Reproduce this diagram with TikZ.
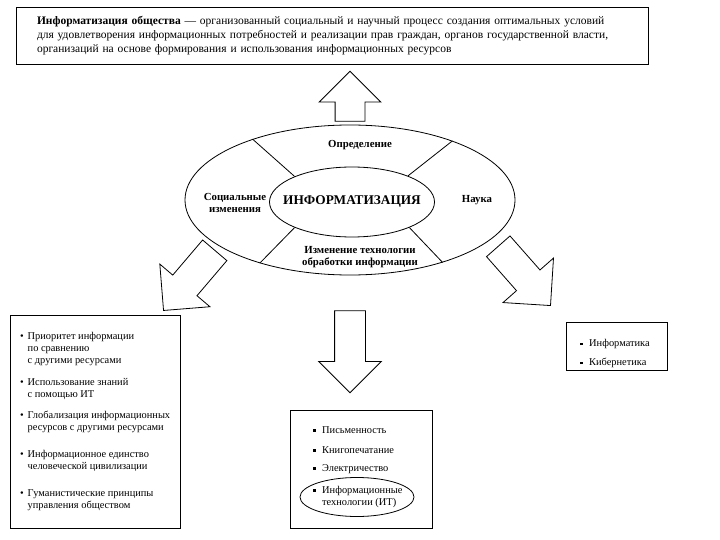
\documentclass[tikz,border=0pt]{standalone}
\usepackage{fontspec}
\setmainfont{Liberation Serif}
\usetikzlibrary{shapes.geometric, shapes.arrows, positioning}
\tikzstyle{box} = [rectangle, draw=black, line width=0.9pt, inner sep=0pt]
\tikzstyle{ring} = [ellipse, draw=black, line width=0.8pt, inner sep=0pt]
\tikzstyle{blockArrow} = [single arrow, draw=black, line width=0.8pt, inner xsep=0pt, inner ysep=14.5pt, single arrow head extend=16pt, anchor=tail]
\tikzstyle{sector} = [align=center, inner sep=0pt, font=\fontsize{10.8}{12.5}\selectfont\bfseries]
\tikzstyle{item} = [align=left, inner sep=0pt, anchor=west, font=\fontsize{10.4}{12}\selectfont]
\newcommand\dotMark{\makebox[7.5pt][l]{\textbullet}}
\newcommand\dotGap{\hspace*{7.5pt}}
\newcommand\sqMark{\makebox[9pt][l]{\rule[1.5pt]{2.5pt}{2.5pt}}}
\newcommand\sqGap{\hspace*{9pt}}

\begin{document}
\begin{tikzpicture}[x=1pt, y=-1pt]
\useasboundingbox (0,0) rectangle (720,540);
% Placement of nodes
\node (definition) [box, minimum width=632pt, minimum height=57pt, text width=590pt, align=left, font=\fontsize{11.5}{14}\selectfont] at (332,35.5) {\textbf{Информатизация общества} --- организованный социальный и научный процесс создания оптимальных условий\\
для удовлетворения информационных потребностей и реализации прав граждан, органов государственной власти,\\
организаций на основе формирования и использования информационных ресурсов};

\node (outerEll) [ring, minimum width=330pt, minimum height=150pt] at (350,200) {};
\node (core) [ring, minimum width=165pt, minimum height=70pt] at (352,202) {};
\node (coreLabel) [font=\fontsize{13.3}{16}\selectfont\bfseries] at (core) {ИНФОРМАТИЗАЦИЯ};

\node (defLabel) [sector] at (360,145) {Определение};
\node (socialLabel) [sector] at (235,203) {Социальные\\изменения};
\node (scienceLabel) [sector] at (477,200) {Наука};
\node (techLabel) [sector] at (360,257) {Изменение технологии\\обработки информации};

% sector borders
\draw [line width=0.8pt] (core.156) -- (outerEll.148);
\draw [line width=0.8pt] (core.25) -- (outerEll.30);
\draw [line width=0.8pt] (core.204) -- (outerEll.215);
\draw [line width=0.8pt] (core.336) -- (outerEll.326);

% block arrows
\node (upArrow) [blockArrow, rotate=90, minimum height=50pt] at ([yshift=3pt]outerEll.north) {};
\node (downArrow) [blockArrow, rotate=-90, minimum height=82pt, inner ysep=15pt] at ([yshift=-35pt]outerEll.south) {};
\node (leftArrow) [blockArrow, rotate=229.6, minimum height=79pt, inner ysep=15.5pt, single arrow head extend=17pt] at (215,250) {};
\node (rightArrow) [blockArrow, rotate=-48.6, minimum height=79pt, inner ysep=15.25pt, single arrow head extend=18pt] at (498,246) {};

% social changes
\node (socialBox) [box, minimum width=170pt, minimum height=213pt] at (95,421.5) {};
\node (prio) [item] at (20,349) {\dotMark Приоритет информации\\\dotGap по сравнению\\\dotGap с другими ресурсами};
\node (knowledge) [item] at (20,389.5) {\dotMark Использование знаний\\\dotGap с помощью ИТ};
\node (global) [item] at (20,422) {\dotMark Глобализация информационных\\\dotGap ресурсов с другими ресурсами};
\node (unity) [item] at (20,461) {\dotMark Информационное единство\\\dotGap человеческой цивилизации};
\node (humanist) [item] at (20,500) {\dotMark Гуманистические принципы\\\dotGap управления обществом};

% technology changes
\node (techBox) [box, minimum width=142pt, minimum height=118pt] at (361,469) {};
\node (writing) [item] at (313,430) {\sqMark Письменность};
\node (printing) [item] at (313,450) {\sqMark Книгопечатание};
\node (power) [item] at (313,469) {\sqMark Электричество};
\node (itEll) [ring, minimum width=114pt, minimum height=39pt] at (357,497) {};
\node (itTech) [item] at (313,496.5) {\sqMark Информационные\\\sqGap технологии (ИТ)};

% science
\node (scienceBox) [box, minimum width=101pt, minimum height=48pt] at (616.5,346) {};
\node (informatics) [item] at (580,344) {\sqMark Информатика};
\node (cybernetics) [item] at (580,363) {\sqMark Кибернетика};
\end{tikzpicture}
\end{document}
